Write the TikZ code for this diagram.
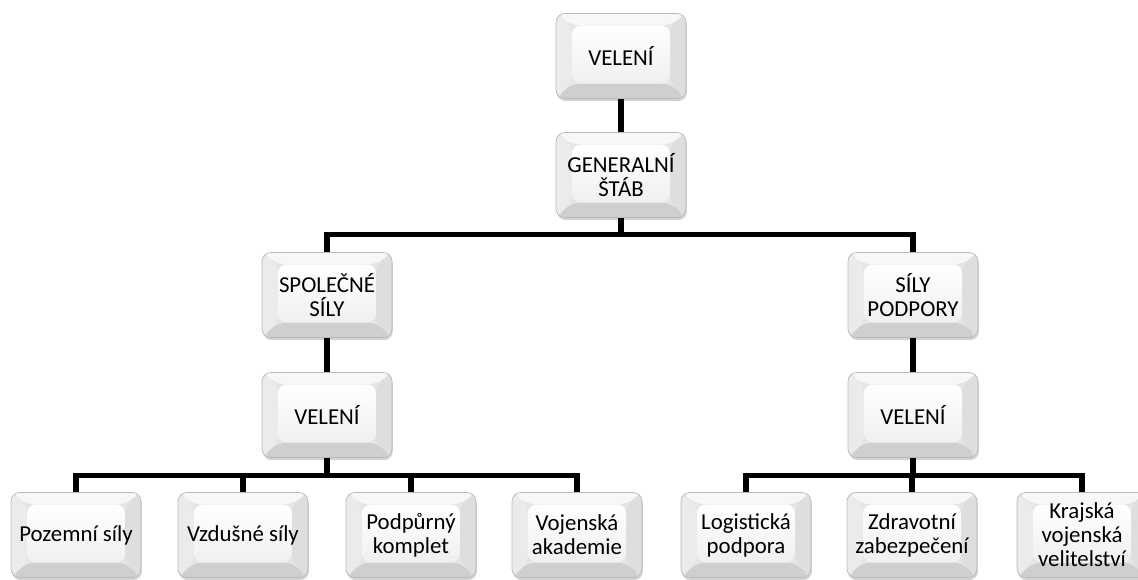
\documentclass[tikz,border=0pt]{standalone}
\usepackage{fontspec}
\newfontfamily\orgfont{Carlito}
\usetikzlibrary{shadows}
\tikzset{
  orgbox/.style={rounded corners=5pt, minimum width=2.6cm, minimum height=1.7cm,
    draw=gray!55, fill=gray!20, align=center, text=black,
    font=\orgfont\fontsize{13}{13.6}\selectfont,
    drop shadow={opacity=0.35, shadow xshift=0.5pt, shadow yshift=-1.5pt},
    path picture={
      \path (path picture bounding box.south west) coordinate (bsw)
            (path picture bounding box.north east) coordinate (bne)
            (path picture bounding box.north west) coordinate (bnw)
            (path picture bounding box.south east) coordinate (bse);
      \path ([shift={(0.32cm,0.3cm)}]bsw) coordinate (isw)
            ([shift={(-0.32cm,-0.24cm)}]bne) coordinate (ine)
            (isw |- ine) coordinate (inw) (ine |- isw) coordinate (ise);
      \fill[gray!6] (bnw) -- (bne) -- (ine) -- (inw) -- cycle;
      \fill[gray!16] (bsw) -- (bnw) -- (inw) -- (isw) -- cycle;
      \fill[gray!26] (bse) -- (bne) -- (ine) -- (ise) -- cycle;
      \fill[gray!38] (bsw) -- (bse) -- (ise) -- (isw) -- cycle;
      \shade[top color=white, bottom color=gray!12] (isw) rectangle (ine);
    }},
  link/.style={line width=3pt, black}
}
\begin{document}
\begin{tikzpicture}[x=0.02cm,y=-0.02cm]
  \useasboundingbox (0,0) rectangle (1138,579);
  \clip (0,0) rectangle (1138,579);

  % top of the tree
  \node[orgbox] (vel) at (621,56) {VELENÍ};
  \node[orgbox] (gs) at (621,175) {GENERALNÍ\\ŠTÁB};

  % two branches
  \node[orgbox] (sps) at (327,295) {SPOLEČNÉ\\SÍLY};
  \node[orgbox] (sp) at (913,295) {SÍLY\\PODPORY};
  \node[orgbox] (velA) at (327,415) {VELENÍ};
  \node[orgbox] (velB) at (913,415) {VELENÍ};

  % bottom row
  \node[orgbox] (pozemni) at (76,535) {Pozemní síly};
  \node[orgbox] (vzdusne) at (243,535) {Vzdušné síly};
  \node[orgbox] (podpurny) at (411,535) {Podpůrný\\komplet};
  \node[orgbox] (vojenska) at (577,535) {Vojenská\\akademie};
  \node[orgbox] (logist) at (746,535) {Logistická\\podpora};
  \node[orgbox] (zdrav) at (912,535) {Zdravotní\\zabezpečení};
  \node[orgbox] (krajska) at (1082,535) {Krajská\\vojenská\\velitelství};

  \draw[link] (vel.south) -- (gs.north);
  \draw[link] (gs.south) -- ++(0,17) -| (sps.north);
  \draw[link] (gs.south) -- ++(0,17) -| (sp.north);
  \draw[link] (sps.south) -- (velA.north);
  \draw[link] (sp.south) -- (velB.north);
  \foreach \kid in {pozemni,vzdusne,podpurny,vojenska}
    \draw[link] (velA.south) -- ++(0,18) -| (\kid.north);
  \foreach \kid in {logist,zdrav,krajska}
    \draw[link] (velB.south) -- ++(0,18) -| (\kid.north);
\end{tikzpicture}
\end{document}
